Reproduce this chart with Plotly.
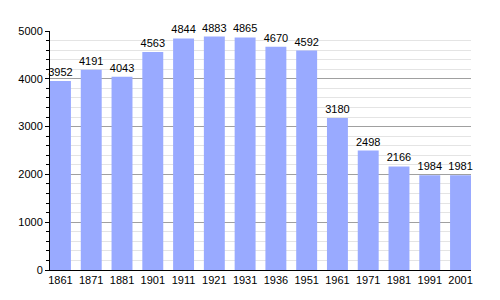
import plotly.graph_objects as go

years = ["1861", "1871", "1881", "1901", "1911", "1921", "1931", "1936", "1951", "1961", "1971", "1981", "1991", "2001"]
population = [3952, 4191, 4043, 4563, 4844, 4883, 4865, 4670, 4592, 3180, 2498, 2166, 1984, 1981]
y_ticks = [0, 1000, 2000, 3000, 4000, 5000]

fig = go.Figure(go.Bar(
    x=years, y=population,
    marker=dict(color="#99aaff", line=dict(width=0)),
    width=0.68,
    text=[str(v) for v in population],
    textposition="outside",
    constraintext="none",
    textfont=dict(size=11, color="black"),
    cliponaxis=False,
))

fig.update_layout(
    width=500, height=300,
    margin=dict(l=50, r=29, t=31, b=30),
    paper_bgcolor="white", plot_bgcolor="white",
    font=dict(family="Liberation Sans, Arial, sans-serif", size=11, color="black"),
    showlegend=False,
)
fig.update_xaxes(
    type="category", range=[-0.34, 13.34], showline=True, linecolor="black", linewidth=1,
    ticks="", showgrid=False, tickfont=dict(size=11),
)
fig.update_yaxes(
    range=[0, 5000], tickvals=y_ticks, showline=True, linecolor="black", linewidth=1,
    ticks="outside", ticklen=4, tickcolor="black",
    showgrid=True, gridcolor="#a0a0a0", gridwidth=1,
    minor=dict(dtick=200, showgrid=True, gridcolor="#e4e4e4", ticks="outside", ticklen=3, tickcolor="black"),
    zeroline=False, tickfont=dict(size=11),
)

fig.write_html("out.html")
